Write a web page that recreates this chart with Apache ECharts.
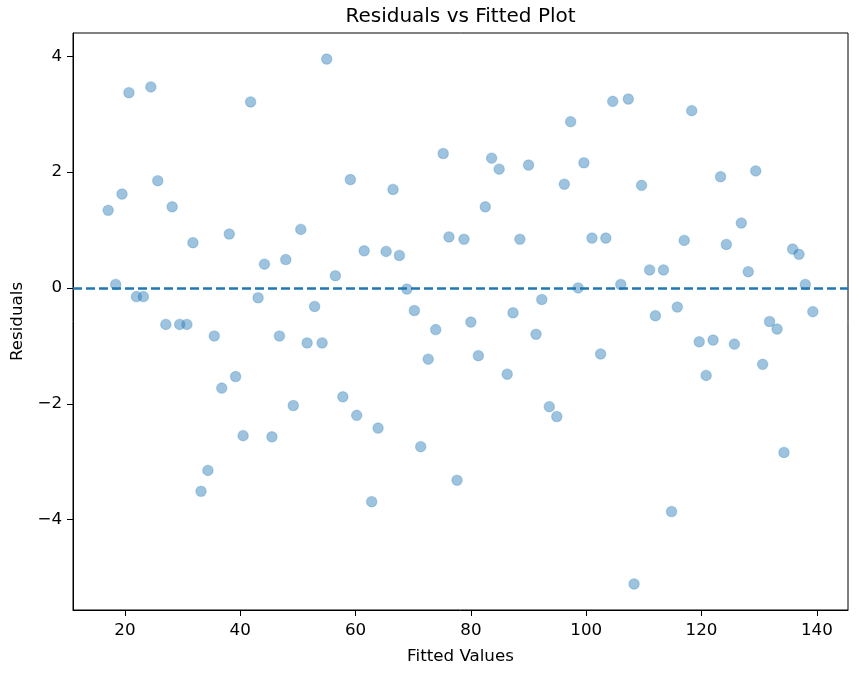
<!DOCTYPE html>
<html>
<head>
<meta charset="utf-8">
<script src="https://cdn.jsdelivr.net/npm/echarts@6/dist/echarts.min.js"></script>
<style>
html,body{margin:0;padding:0;background:#fff;}
#chart{width:859px;height:678px;}
</style>
</head>
<body>
<div id="chart"></div>
<script>
const fittedValues = [
  17.1, 18.4, 19.5, 20.7, 22.0, 23.2, 24.5, 25.7, 27.1, 28.2,
  29.5, 30.75, 31.8, 33.2, 34.4, 35.5, 36.8, 38.1, 39.2, 40.5,
  41.8, 43.1, 44.2, 45.5, 46.8, 47.9, 49.2, 50.5, 51.6, 52.9,
  54.2, 55.0, 56.5, 57.8, 59.1, 60.2, 61.5, 62.8, 63.9, 65.3,
  66.5, 67.6, 68.9, 70.2, 71.3, 72.6, 73.9, 75.2, 76.2, 77.6,
  78.8, 80.0, 81.3, 82.5, 83.6, 84.9, 86.3, 87.3, 88.5, 90.0,
  91.3, 92.3, 93.6, 94.9, 96.2, 97.3, 98.6, 99.6, 101.0, 102.5,
  103.4, 104.6, 106.0, 107.3, 108.3, 109.6, 111.0, 112.0, 113.4, 114.8,
  115.8, 117.0, 118.3, 119.6, 120.8, 122.0, 123.3, 124.3, 125.7, 126.9,
  128.1, 129.4, 130.6, 131.8, 133.1, 134.3, 135.8, 136.9, 138.0, 139.3
];
const residuals = [
  1.34, 0.06, 1.62, 3.37, -0.15, -0.15, 3.47, 1.85, -0.63, 1.40,
  -0.63, -0.63, 0.78, -3.51, -3.15, -0.83, -1.73, 0.93, -1.53, -2.55,
  3.21, -0.17, 0.41, -2.57, -0.83, 0.49, -2.03, 1.01, -0.95, -0.32,
  -0.95, 3.95, 0.21, -1.88, 1.87, -2.20, 0.64, -3.69, -2.42, 0.63,
  1.70, 0.56, -0.02, -0.39, -2.74, -1.23, -0.72, 2.32, 0.88, -3.32,
  0.84, -0.59, -1.17, 1.40, 2.24, 2.05, -1.49, -0.43, 0.84, 2.12,
  -0.80, -0.20, -2.05, -2.22, 1.79, 2.87, 0.00, 2.16, 0.86, -1.14,
  0.86, 3.22, 0.06, 3.26, -5.11, 1.77, 0.31, -0.48, 0.31, -3.86,
  -0.33, 0.82, 3.06, -0.93, -1.51, -0.90, 1.92, 0.75, -0.97, 1.12,
  0.28, 2.02, -1.32, -0.58, -0.71, -2.84, 0.67, 0.58, 0.06, -0.41
];
const xTicks = [20, 40, 60, 80, 100, 120, 140];
const yTicks = [-4, -2, 0, 2, 4];
const referenceLine = 0;

const fmt = v => (v < 0 ? '\u2212' + Math.abs(v) : String(v));
const FONT = 'DejaVu Sans';

const chart = echarts.init(document.getElementById('chart'), null, {renderer: 'canvas'});
const GRID = {left: 73, top: 33, width: 775, height: 577};

chart.setOption({
  animation: false,
  backgroundColor: '#ffffff',
  textStyle: {fontFamily: FONT},
  graphic: [{
    type: 'text',
    x: GRID.left + GRID.width / 2,
    y: 17,
    style: {
      text: 'Residuals vs Fitted Plot',
      font: '20px "DejaVu Sans"',
      fill: '#000',
      textAlign: 'center',
      textVerticalAlign: 'middle'
    }
  }],
  grid: {
    left: GRID.left, top: GRID.top, width: GRID.width, height: GRID.height,
    show: true, borderColor: '#000', borderWidth: 1, backgroundColor: '#fff',
    containLabel: false
  },
  xAxis: {
    type: 'value',
    min: 11.0, max: 145.4,
    name: 'Fitted Values',
    nameLocation: 'middle',
    nameGap: 38,
    nameTextStyle: {fontSize: 16.7, color: '#000', fontFamily: FONT},
    axisLine: {show: true, onZero: false, lineStyle: {color: '#000', width: 1}},
    axisTick: {show: true, length: 6, inside: false, customValues: xTicks, lineStyle: {color: '#000'}},
    axisLabel: {customValues: xTicks, margin: 12, fontSize: 16.7, color: '#000', fontFamily: FONT, formatter: fmt},
    splitLine: {show: false}
  },
  yAxis: {
    type: 'value',
    min: -5.56, max: 4.40,
    name: 'Residuals',
    nameLocation: 'middle',
    nameGap: 46,
    nameRotate: 90,
    nameTextStyle: {fontSize: 16.7, color: '#000', fontFamily: FONT},
    axisLine: {show: true, onZero: false, lineStyle: {color: '#000', width: 1}},
    axisTick: {show: true, length: 6, inside: false, customValues: yTicks, lineStyle: {color: '#000'}},
    axisLabel: {customValues: yTicks, margin: 11, fontSize: 16.7, color: '#000', fontFamily: FONT, formatter: fmt},
    splitLine: {show: false}
  },
  series: [{
    type: 'scatter',
    data: fittedValues.map((x, i) => [x, residuals[i]]),
    symbol: 'circle',
    symbolSize: 10.5,
    itemStyle: {color: 'rgba(31,119,180,0.55)', borderColor: 'rgba(31,119,180,0.3)', borderWidth: 1.2},
    markLine: {
      silent: true,
      symbol: ['none', 'none'],
      label: {show: false},
      lineStyle: {color: '#1f77b4', width: 2.5, type: [9, 4]},
      data: [{yAxis: referenceLine}]
    },
    z: 2
  }]
});
</script>
</body>
</html>
